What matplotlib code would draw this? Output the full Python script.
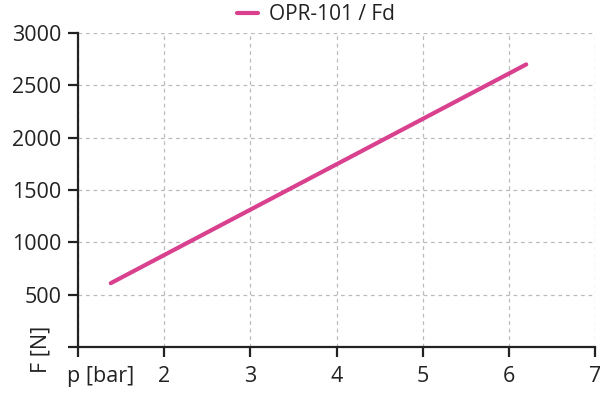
import matplotlib
matplotlib.use("Agg")
import matplotlib.pyplot as plt
import matplotlib.transforms as mtransforms

# ── DATA ───────────────────────────────────────────────────
pressure = [1.38, 6.2]          # p [bar]
force    = [610, 2700]          # F [N]
series_label = "OPR-101 / Fd"

x_ticks = [1, 2, 3, 4, 5, 6, 7]
x_labels = ["p [bar]", "2", "3", "4", "5", "6", "7"]
y_ticks = [0, 500, 1000, 1500, 2000, 2500, 3000]
y_labels = ["F [N]", "500", "1000", "1500", "2000", "2500", "3000"]

PINK = "#D9418F"
TEXT = "#222222"

plt.rcParams["font.family"] = ["Open Sans", "DejaVu Sans"]

fig = plt.figure(figsize=(6.0, 3.93), dpi=100)
ax = fig.add_axes([0.13, 0.117, 0.862, 0.799])

ax.plot(pressure, force, color=PINK, linewidth=3, solid_capstyle="round",
        label=series_label)

ax.set_xlim(1, 7)
ax.set_ylim(0, 3000)
ax.set_xticks(x_ticks)
ax.set_xticklabels(x_labels)
ax.set_yticks(y_ticks)
ax.set_yticklabels(y_labels)

ax.grid(True, color="#bbbbbb", linestyle=(0, (3, 3)), linewidth=0.9)
ax.set_axisbelow(True)
for s in ["top", "right"]:
    ax.spines[s].set_visible(False)
for s in ["left", "bottom"]:
    ax.spines[s].set_color(TEXT)
    ax.spines[s].set_linewidth(1.6)
ax.tick_params(colors=TEXT, labelsize=15.5, width=1.6, length=7)
ax.tick_params(axis="x", pad=7)
ax.tick_params(axis="y", pad=5)

# axis names sit in the first tick slot
ylab = ax.get_yticklabels()[0]
ylab.set_rotation(90)
ylab.set_verticalalignment("center")
ylab.set_transform(ylab.get_transform() +
                   mtransforms.ScaledTranslation(-0.1, -0.02, fig.dpi_scale_trans))
xlab = ax.get_xticklabels()[0]
xlab.set_horizontalalignment("left")
xlab.set_transform(xlab.get_transform() +
                   mtransforms.ScaledTranslation(-0.11, 0, fig.dpi_scale_trans))

ax.legend(loc="lower center", bbox_to_anchor=(0.46, 0.985), frameon=False,
          fontsize=15, handlelength=1.0, handletextpad=0.5,
          labelcolor=TEXT, borderaxespad=0.2)

fig.savefig("out.png", dpi=100)
